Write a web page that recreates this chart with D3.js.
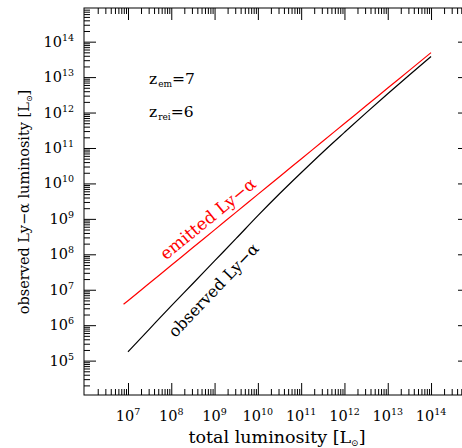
<!DOCTYPE html>
<html>
<head>
<meta charset="utf-8">
<script src="https://cdn.jsdelivr.net/npm/d3@7"></script>
<style>
  body { margin: 0; background: #fff; }
  text { font-family: "DejaVu Serif", serif; }
</style>
</head>
<body>
<svg id="chart" width="462" height="448"></svg>
<script>
// Emitted Ly-alpha luminosity vs total luminosity [L_sun]
const emittedTotal = [7.9e6, 1e7, 3.16e7, 1e8, 3.16e8, 1e9, 3.16e9, 1e10, 3.16e10, 1e11, 3.16e11, 1e12, 3.16e12, 1e13, 3.16e13, 1e14];
const emittedLya   = [3.89e6, 4.9e6, 1.55e7, 4.9e7, 1.55e8, 4.9e8, 1.55e9, 4.9e9, 1.55e10, 4.9e10, 1.55e11, 4.9e11, 1.55e12, 4.9e12, 1.55e13, 4.9e13];

// Observed Ly-alpha luminosity after IGM transmission
const observedTotal = [1e7, 3.16e7, 1e8, 3.16e8, 1e9, 3.16e9, 1e10, 3.16e10, 1e11, 3.16e11, 1e12, 3.16e12, 1e13, 3.16e13, 1e14];
const observedLya   = [1.78e5, 7.9e5, 3.5e6, 1.5e7, 6.5e7, 2.8e8, 1.23e9, 5.1e9, 2.0e10, 7.6e10, 2.75e11, 9.8e11, 3.4e12, 1.15e13, 3.8e13];

// Labelled decades
const xTickExponents = [7, 8, 9, 10, 11, 12, 13, 14];
const yTickExponents = [5, 6, 7, 8, 9, 10, 11, 12, 13, 14];

const xTitle = "total luminosity [L";
const yTitle = "observed Ly\u2212\u03b1 luminosity [L";
const sunSymbol = "\u2299";

const svg = d3.select("#chart");
const frame = { left: 84, right: 470, top: 8, bottom: 395 };

const x = d3.scaleLog().domain([Math.pow(10, 5.984), Math.pow(10, 14.9)]).range([frame.left, frame.right]);
const y = d3.scaleLog().domain([Math.pow(10, 4.03), Math.pow(10, 14.95)]).range([frame.bottom, frame.top]);

function minorTicks(scale) {
  const [lo, hi] = scale.domain();
  const out = [];
  for (let e = Math.floor(Math.log10(lo)); e <= Math.ceil(Math.log10(hi)); e++) {
    for (let m = 2; m <= 9; m++) {
      const v = m * Math.pow(10, e);
      if (v > lo && v < hi) out.push(v);
    }
  }
  return out;
}
const xMajor = xTickExponents.map(e => Math.pow(10, e));
const yMajor = yTickExponents.map(e => Math.pow(10, e));
const xMinor = minorTicks(x);
const yMinor = minorTicks(y);

// Inward ticks on all four sides
function addAxis(axisFn, scale, values, size, transform) {
  const g = svg.append("g")
    .attr("transform", transform)
    .call(axisFn(scale).tickValues(values).tickSize(size).tickSizeOuter(0).tickFormat(""));
  g.select(".domain").remove();
  g.selectAll(".tick line").attr("stroke", "#000").attr("stroke-width", 1);
  return g;
}
addAxis(d3.axisBottom, x, xMinor, -6, `translate(0,${frame.bottom})`);
addAxis(d3.axisBottom, x, xMajor, -12, `translate(0,${frame.bottom})`);
addAxis(d3.axisTop, x, xMinor, -6, `translate(0,${frame.top})`);
addAxis(d3.axisTop, x, xMajor, -12, `translate(0,${frame.top})`);
addAxis(d3.axisLeft, y, yMinor, -6, `translate(${frame.left},0)`);
addAxis(d3.axisLeft, y, yMajor, -12, `translate(${frame.left},0)`);
addAxis(d3.axisRight, y, yMinor, -6, `translate(${frame.right},0)`);
addAxis(d3.axisRight, y, yMajor, -12, `translate(${frame.right},0)`);

svg.append("rect")
  .attr("x", frame.left).attr("y", frame.top)
  .attr("width", frame.right - frame.left).attr("height", frame.bottom - frame.top)
  .attr("fill", "none").attr("stroke", "#000").attr("stroke-width", 1);

// Tick labels as 10^n
function powerLabel(sel, exp) {
  sel.append("tspan").text("10");
  sel.append("tspan").attr("dy", -6).attr("font-size", 9.5).text(exp);
}
xTickExponents.forEach(e => {
  const t = svg.append("text")
    .attr("x", x(Math.pow(10, e))).attr("y", 421)
    .attr("text-anchor", "middle").attr("font-size", 14.5);
  powerLabel(t, e);
});
yTickExponents.forEach(e => {
  const t = svg.append("text")
    .attr("x", 74).attr("y", y(Math.pow(10, e)) + 5)
    .attr("text-anchor", "end").attr("font-size", 14.5);
  powerLabel(t, e);
});

// Axis titles
function titleWithSun(sel, str, subSize) {
  sel.append("tspan").text(str);
  sel.append("tspan").attr("font-size", subSize).attr("dy", 3).text(sunSymbol);
  sel.append("tspan").attr("dy", -3).text("]");
}
titleWithSun(svg.append("text")
  .attr("x", 277).attr("y", 443).attr("text-anchor", "middle").attr("font-size", 17.5), xTitle, 9);
titleWithSun(svg.append("text")
  .attr("transform", "translate(29,202) rotate(-90)")
  .attr("text-anchor", "middle").attr("font-size", 14.5), yTitle, 8);

// Curves
const line = d3.line().x(d => x(d[0])).y(d => y(d[1])).curve(d3.curveMonotoneX);
svg.append("path")
  .datum(d3.zip(emittedTotal, emittedLya))
  .attr("d", line).attr("fill", "none").attr("stroke", "#ff0000").attr("stroke-width", 1.2);
svg.append("path")
  .datum(d3.zip(observedTotal, observedLya))
  .attr("d", line).attr("fill", "none").attr("stroke", "#000").attr("stroke-width", 1.2);

// Redshift annotations
function zLabel(yPos, sub, val) {
  const t = svg.append("text").attr("x", 149).attr("y", yPos).attr("font-size", 15.5);
  t.append("tspan").text("z");
  t.append("tspan").attr("font-size", 9).attr("dy", 3).attr("dx", 1).text(sub);
  t.append("tspan").attr("dy", -3).text("=" + val);
}
zLabel(84, "em", 7);
zLabel(117, "rei", 6);

// Curve labels, rotated to follow their lines
function angleBetween(xs, ys, i, j) {
  return Math.atan2(y(ys[j]) - y(ys[i]), x(xs[j]) - x(xs[i])) * 180 / Math.PI;
}
const redAngle = angleBetween(emittedTotal, emittedLya, 2, 6);
svg.append("text")
  .attr("transform", `translate(${x(emittedTotal[2])},${y(emittedLya[2])}) rotate(${redAngle})`)
  .attr("x", 27).attr("y", -7)
  .attr("fill", "#ff0000").attr("font-size", 17)
  .text("emitted Ly\u2212\u03b1");
const blackAngle = angleBetween(observedTotal, observedLya, 1, 6);
svg.append("text")
  .attr("transform", `translate(${x(observedTotal[1])},${y(observedLya[1])}) rotate(${blackAngle})`)
  .attr("x", 11).attr("y", 25)
  .attr("fill", "#000").attr("font-size", 16)
  .text("observed Ly\u2212\u03b1");
</script>
</body>
</html>
